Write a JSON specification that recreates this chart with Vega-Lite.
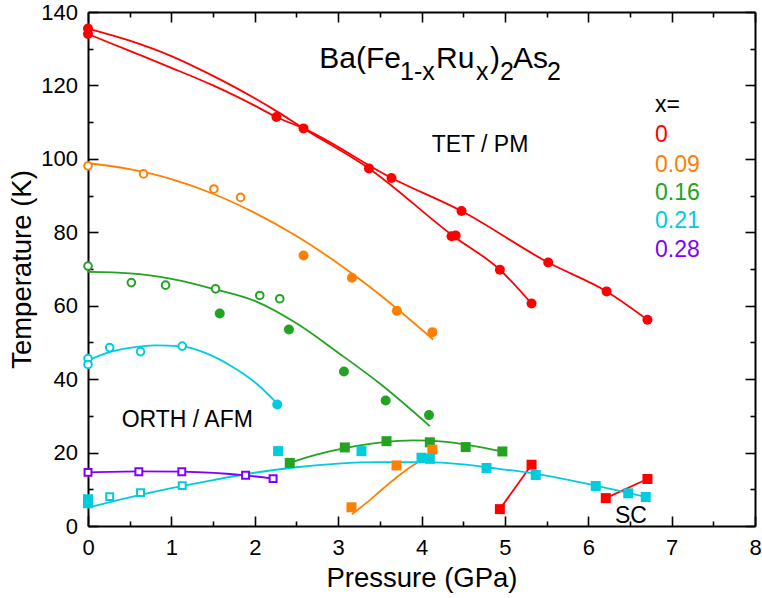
{
  "$schema": "https://vega.github.io/schema/vega-lite/v6.json",
  "width": 667,
  "height": 514,
  "autosize": {"type": "none"},
  "padding": {"left": 88, "top": 12, "right": 7, "bottom": 72},
  "background": "white",
  "config": {
    "font": "Liberation Sans",
    "view": {"stroke": null},
    "axis": {
      "grid": false,
      "domainColor": "black",
      "tickColor": "black",
      "labelColor": "black",
      "titleColor": "black",
      "labelFont": "Liberation Sans",
      "titleFont": "Liberation Sans",
      "titleFontWeight": "normal",
      "labelFontSize": 22,
      "titleFontSize": 27.5,
      "domainWidth": 2,
      "tickWidth": 1.6,
      "labelFlush": false,
      "labelOverlap": false
    }
  },
  "datasets": {
    "curves": [
      {"id": "r1", "comp": "0", "P": 0, "T": 135.5},
      {"id": "r1", "comp": "0", "P": 0.5, "T": 132.2},
      {"id": "r1", "comp": "0", "P": 1, "T": 128.0},
      {"id": "r1", "comp": "0", "P": 1.5, "T": 122.6},
      {"id": "r1", "comp": "0", "P": 2, "T": 116.5},
      {"id": "r1", "comp": "0", "P": 2.26, "T": 113.0},
      {"id": "r1", "comp": "0", "P": 2.585, "T": 108.3},
      {"id": "r1", "comp": "0", "P": 3.37, "T": 97.4},
      {"id": "r1", "comp": "0", "P": 4.38, "T": 79.0},
      {"id": "r1", "comp": "0", "P": 4.94, "T": 69.8},
      {"id": "r1", "comp": "0", "P": 5.32, "T": 60.6},
      {"id": "r2", "comp": "0", "P": 0, "T": 134.0},
      {"id": "r2", "comp": "0", "P": 0.5, "T": 129.4},
      {"id": "r2", "comp": "0", "P": 1, "T": 124.8},
      {"id": "r2", "comp": "0", "P": 1.5, "T": 120.0},
      {"id": "r2", "comp": "0", "P": 2, "T": 114.5},
      {"id": "r2", "comp": "0", "P": 2.26, "T": 111.4},
      {"id": "r2", "comp": "0", "P": 2.585, "T": 108.3},
      {"id": "r2", "comp": "0", "P": 3.64, "T": 94.8},
      {"id": "r2", "comp": "0", "P": 4.48, "T": 85.8},
      {"id": "r2", "comp": "0", "P": 5.52, "T": 71.75},
      {"id": "r2", "comp": "0", "P": 6.22, "T": 63.9},
      {"id": "r2", "comp": "0", "P": 6.71, "T": 56.2},
      {"id": "rs1", "comp": "0", "P": 4.94, "T": 4.6},
      {"id": "rs1", "comp": "0", "P": 5.32, "T": 16.7},
      {"id": "rs2", "comp": "0", "P": 6.21, "T": 7.6},
      {"id": "rs2", "comp": "0", "P": 6.71, "T": 12.8},
      {"id": "o1", "comp": "0.09", "P": 0, "T": 98.8},
      {"id": "o1", "comp": "0.09", "P": 0.5, "T": 97.2},
      {"id": "o1", "comp": "0.09", "P": 1, "T": 94.5},
      {"id": "o1", "comp": "0.09", "P": 1.5, "T": 90.5},
      {"id": "o1", "comp": "0.09", "P": 2, "T": 85.3},
      {"id": "o1", "comp": "0.09", "P": 2.5, "T": 79.0},
      {"id": "o1", "comp": "0.09", "P": 3, "T": 71.5},
      {"id": "o1", "comp": "0.09", "P": 3.5, "T": 63.0},
      {"id": "o1", "comp": "0.09", "P": 4.14, "T": 50.8},
      {"id": "os", "comp": "0.09", "P": 3.165, "T": 3.2},
      {"id": "os", "comp": "0.09", "P": 3.35, "T": 6.5},
      {"id": "os", "comp": "0.09", "P": 3.54, "T": 10.2},
      {"id": "os", "comp": "0.09", "P": 3.7, "T": 13.2},
      {"id": "os", "comp": "0.09", "P": 3.85, "T": 15.8},
      {"id": "os", "comp": "0.09", "P": 4.0, "T": 18.0},
      {"id": "g1", "comp": "0.16", "P": 0, "T": 69.2},
      {"id": "g1", "comp": "0.16", "P": 0.5, "T": 68.8},
      {"id": "g1", "comp": "0.16", "P": 1, "T": 67.3},
      {"id": "g1", "comp": "0.16", "P": 1.5, "T": 64.6},
      {"id": "g1", "comp": "0.16", "P": 2, "T": 61.3},
      {"id": "g1", "comp": "0.16", "P": 2.5, "T": 55.2},
      {"id": "g1", "comp": "0.16", "P": 3, "T": 47.2},
      {"id": "g1", "comp": "0.16", "P": 3.5, "T": 38.8},
      {"id": "g1", "comp": "0.16", "P": 4.1, "T": 27.2},
      {"id": "gs", "comp": "0.16", "P": 2.42, "T": 17.2},
      {"id": "gs", "comp": "0.16", "P": 2.75, "T": 19.5},
      {"id": "gs", "comp": "0.16", "P": 3.08, "T": 21.2},
      {"id": "gs", "comp": "0.16", "P": 3.5, "T": 22.7},
      {"id": "gs", "comp": "0.16", "P": 3.9, "T": 23.3},
      {"id": "gs", "comp": "0.16", "P": 4.3, "T": 22.9},
      {"id": "gs", "comp": "0.16", "P": 4.6, "T": 21.9},
      {"id": "gs", "comp": "0.16", "P": 4.97, "T": 20.3},
      {"id": "c1", "comp": "0.21", "P": 0, "T": 45.1},
      {"id": "c1", "comp": "0.21", "P": 0.25, "T": 47.3},
      {"id": "c1", "comp": "0.21", "P": 0.5, "T": 48.5},
      {"id": "c1", "comp": "0.21", "P": 0.8, "T": 49.2},
      {"id": "c1", "comp": "0.21", "P": 1.13, "T": 48.9},
      {"id": "c1", "comp": "0.21", "P": 1.42, "T": 47.0},
      {"id": "c1", "comp": "0.21", "P": 1.7, "T": 43.8},
      {"id": "c1", "comp": "0.21", "P": 2.02, "T": 38.8},
      {"id": "c1", "comp": "0.21", "P": 2.27, "T": 33.3},
      {"id": "cs", "comp": "0.21", "P": 0, "T": 5.0},
      {"id": "cs", "comp": "0.21", "P": 0.5, "T": 7.8},
      {"id": "cs", "comp": "0.21", "P": 1, "T": 10.3},
      {"id": "cs", "comp": "0.21", "P": 1.5, "T": 12.5},
      {"id": "cs", "comp": "0.21", "P": 2, "T": 14.5},
      {"id": "cs", "comp": "0.21", "P": 2.5, "T": 16.0},
      {"id": "cs", "comp": "0.21", "P": 3, "T": 17.0},
      {"id": "cs", "comp": "0.21", "P": 3.5, "T": 17.4},
      {"id": "cs", "comp": "0.21", "P": 4, "T": 17.4},
      {"id": "cs", "comp": "0.21", "P": 4.5, "T": 16.8},
      {"id": "cs", "comp": "0.21", "P": 4.78, "T": 16.0},
      {"id": "cs", "comp": "0.21", "P": 5.37, "T": 14.2},
      {"id": "cs", "comp": "0.21", "P": 6.09, "T": 11.0},
      {"id": "cs", "comp": "0.21", "P": 6.48, "T": 9.0},
      {"id": "cs", "comp": "0.21", "P": 6.69, "T": 7.9},
      {"id": "p1", "comp": "0.28", "P": 0, "T": 14.6},
      {"id": "p1", "comp": "0.28", "P": 0.61, "T": 14.9},
      {"id": "p1", "comp": "0.28", "P": 1.125, "T": 14.8},
      {"id": "p1", "comp": "0.28", "P": 1.89, "T": 13.8},
      {"id": "p1", "comp": "0.28", "P": 2.22, "T": 12.9}
    ],
    "points": [
      {"comp": "0", "kind": "fc", "P": 0, "T": 135.5},
      {"comp": "0", "kind": "fc", "P": 0, "T": 134.0},
      {"comp": "0", "kind": "fc", "P": 2.26, "T": 111.4},
      {"comp": "0", "kind": "fc", "P": 2.585, "T": 108.3},
      {"comp": "0", "kind": "fc", "P": 3.37, "T": 97.4},
      {"comp": "0", "kind": "fc", "P": 3.64, "T": 94.8},
      {"comp": "0", "kind": "fc", "P": 4.36, "T": 78.9},
      {"comp": "0", "kind": "fc", "P": 4.41, "T": 79.1},
      {"comp": "0", "kind": "fc", "P": 4.48, "T": 85.8},
      {"comp": "0", "kind": "fc", "P": 4.94, "T": 69.8},
      {"comp": "0", "kind": "fc", "P": 5.32, "T": 60.6},
      {"comp": "0", "kind": "fc", "P": 5.52, "T": 71.75},
      {"comp": "0", "kind": "fc", "P": 6.22, "T": 63.9},
      {"comp": "0", "kind": "fc", "P": 6.71, "T": 56.2},
      {"comp": "0.09", "kind": "oc", "P": 0, "T": 98.1},
      {"comp": "0.09", "kind": "oc", "P": 0.666, "T": 95.9},
      {"comp": "0.09", "kind": "oc", "P": 1.51, "T": 91.8},
      {"comp": "0.09", "kind": "oc", "P": 1.83, "T": 89.5},
      {"comp": "0.09", "kind": "fc", "P": 2.585, "T": 73.7},
      {"comp": "0.09", "kind": "fc", "P": 3.166, "T": 67.6},
      {"comp": "0.09", "kind": "fc", "P": 3.705, "T": 58.6},
      {"comp": "0.09", "kind": "fc", "P": 4.13, "T": 52.8},
      {"comp": "0.16", "kind": "oc", "P": 0, "T": 70.8},
      {"comp": "0.16", "kind": "oc", "P": 0.52, "T": 66.3},
      {"comp": "0.16", "kind": "oc", "P": 0.93, "T": 65.6},
      {"comp": "0.16", "kind": "oc", "P": 1.53, "T": 64.6},
      {"comp": "0.16", "kind": "oc", "P": 2.06, "T": 62.8},
      {"comp": "0.16", "kind": "oc", "P": 2.3, "T": 61.9},
      {"comp": "0.16", "kind": "fc", "P": 1.58, "T": 57.9},
      {"comp": "0.16", "kind": "fc", "P": 2.41, "T": 53.5},
      {"comp": "0.16", "kind": "fc", "P": 3.07, "T": 42.1},
      {"comp": "0.16", "kind": "fc", "P": 3.57, "T": 34.2},
      {"comp": "0.16", "kind": "fc", "P": 4.09, "T": 30.2},
      {"comp": "0.21", "kind": "oc", "P": 0, "T": 45.6},
      {"comp": "0.21", "kind": "oc", "P": 0, "T": 44.0},
      {"comp": "0.21", "kind": "oc", "P": 0.26, "T": 48.6},
      {"comp": "0.21", "kind": "oc", "P": 0.63, "T": 47.5},
      {"comp": "0.21", "kind": "oc", "P": 1.13, "T": 49.0},
      {"comp": "0.21", "kind": "fc", "P": 2.27, "T": 33.1},
      {"comp": "0.21", "kind": "os", "P": 0.26, "T": 8.0},
      {"comp": "0.21", "kind": "os", "P": 0.63, "T": 9.1},
      {"comp": "0.21", "kind": "os", "P": 1.13, "T": 11.0},
      {"comp": "0.28", "kind": "os", "P": 0, "T": 14.6},
      {"comp": "0.28", "kind": "os", "P": 0.61, "T": 14.8},
      {"comp": "0.28", "kind": "os", "P": 1.125, "T": 14.8},
      {"comp": "0.28", "kind": "os", "P": 1.89, "T": 13.8},
      {"comp": "0.28", "kind": "os", "P": 2.22, "T": 12.9},
      {"comp": "0.16", "kind": "fs", "P": 2.42, "T": 17.2},
      {"comp": "0.16", "kind": "fs", "P": 3.08, "T": 21.4},
      {"comp": "0.16", "kind": "fs", "P": 3.58, "T": 23.1},
      {"comp": "0.16", "kind": "fs", "P": 4.1, "T": 22.8},
      {"comp": "0.16", "kind": "fs", "P": 4.53, "T": 21.5},
      {"comp": "0.16", "kind": "fs", "P": 4.97, "T": 20.3},
      {"comp": "0.09", "kind": "fs", "P": 3.16, "T": 5.1},
      {"comp": "0.09", "kind": "fs", "P": 3.7, "T": 16.5},
      {"comp": "0.09", "kind": "fs", "P": 4.13, "T": 20.8},
      {"comp": "0.21", "kind": "fs", "P": 0, "T": 7.3},
      {"comp": "0.21", "kind": "fs", "P": 0, "T": 6.2},
      {"comp": "0.21", "kind": "fs", "P": 2.28, "T": 20.4},
      {"comp": "0.21", "kind": "fs", "P": 3.28, "T": 20.4},
      {"comp": "0.21", "kind": "fs", "P": 4.0, "T": 18.6},
      {"comp": "0.21", "kind": "fs", "P": 4.1, "T": 18.3},
      {"comp": "0.21", "kind": "fs", "P": 4.78, "T": 15.8},
      {"comp": "0.21", "kind": "fs", "P": 5.37, "T": 13.9},
      {"comp": "0.21", "kind": "fs", "P": 6.09, "T": 10.9},
      {"comp": "0.21", "kind": "fs", "P": 6.48, "T": 8.9},
      {"comp": "0.21", "kind": "fs", "P": 6.69, "T": 7.9},
      {"comp": "0", "kind": "fs", "P": 4.94, "T": 4.6},
      {"comp": "0", "kind": "fs", "P": 5.32, "T": 16.7},
      {"comp": "0", "kind": "fs", "P": 6.21, "T": 7.6},
      {"comp": "0", "kind": "fs", "P": 6.71, "T": 12.8}
    ],
    "labels": [
      {"kind": "plain", "text": "TET / PM", "P": 4.122, "T": 101.95},
      {"kind": "plain", "text": "ORTH / AFM", "P": 0.404, "T": 27.05},
      {"kind": "plain", "text": "SC", "P": 6.321, "T": 0.9},
      {"kind": "plain", "text": "x=", "P": 6.801, "T": 112.76},
      {"kind": "legend", "comp": "0", "text": "0", "P": 6.801, "T": 104.67},
      {"kind": "legend", "comp": "0.09", "text": "0.09", "P": 6.801, "T": 96.5},
      {"kind": "legend", "comp": "0.16", "text": "0.16", "P": 6.801, "T": 88.8},
      {"kind": "legend", "comp": "0.21", "text": "0.21", "P": 6.801, "T": 81.1},
      {"kind": "legend", "comp": "0.28", "text": "0.28", "P": 6.801, "T": 73.2},
      {"kind": "main", "text": "Ba(Fe", "P": 2.774, "T": 124.67},
      {"kind": "sub", "text": "1-x", "P": 3.742, "T": 121.48},
      {"kind": "main", "text": "Ru", "P": 4.174, "T": 124.67},
      {"kind": "sub", "text": "x", "P": 4.654, "T": 121.48},
      {"kind": "main", "text": ")", "P": 4.822, "T": 124.67},
      {"kind": "sub", "text": "2", "P": 4.942, "T": 121.48},
      {"kind": "main", "text": "As", "P": 5.097, "T": 124.67},
      {"kind": "sub", "text": "2", "P": 5.505, "T": 121.48}
    ]
  },
  "layer": [
    {
      "data": {"name": "curves"},
      "mark": {"type": "line", "interpolate": "monotone", "strokeWidth": 1.8},
      "encoding": {
        "x": {"field": "P", "type": "quantitative", "scale": {"domain": [0, 8], "nice": false, "zero": false},
              "axis": {"orient": "bottom", "values": [0, 1, 2, 3, 4, 5, 6, 7, 8], "tickSize": -10, "labelPadding": 21, "title": "Pressure (GPa)", "titlePadding": 6}},
        "y": {"field": "T", "type": "quantitative", "scale": {"domain": [0, 140], "nice": false, "zero": false},
              "axis": {"orient": "left", "values": [0, 20, 40, 60, 80, 100, 120, 140], "tickSize": -10, "labelPadding": 20.5, "title": "Temperature (K)", "titlePadding": 4}},
        "color": {"field": "comp", "type": "nominal", "scale": {"domain": ["0", "0.09", "0.16", "0.21", "0.28"], "range": ["#ff0000", "#ff8000", "#22a322", "#00ccdd", "#8000ff"]}, "legend": null},
        "detail": {"field": "id"}
      }
    },
    {
      "data": {"name": "points"},
      "transform": [{"filter": "datum.kind === 'oc'"}],
      "mark": {"type": "point", "shape": "circle", "filled": false, "fill": "white", "strokeWidth": 2, "size": 58, "opacity": 1},
      "encoding": {
        "x": {"field": "P", "type": "quantitative", "scale": {"domain": [0, 8], "nice": false, "zero": false},
              "axis": {"orient": "top", "values": [0, 1, 2, 3, 4, 5, 6, 7, 8], "tickSize": -10, "labels": false, "title": null}},
        "y": {"field": "T", "type": "quantitative", "scale": {"domain": [0, 140], "nice": false, "zero": false},
              "axis": {"orient": "right", "values": [0, 20, 40, 60, 80, 100, 120, 140], "tickSize": -10, "labels": false, "title": null}},
        "color": {"field": "comp", "type": "nominal", "scale": {"domain": ["0", "0.09", "0.16", "0.21", "0.28"], "range": ["#ff0000", "#ff8000", "#22a322", "#00ccdd", "#8000ff"]}, "legend": null}
      }
    },
    {
      "data": {"name": "points"},
      "transform": [{"filter": "datum.kind === 'fc'"}],
      "mark": {"type": "point", "shape": "circle", "filled": true, "size": 100, "opacity": 1},
      "encoding": {
        "x": {"field": "P", "type": "quantitative", "scale": {"domain": [0, 8], "nice": false, "zero": false},
              "axis": {"orient": "bottom", "values": [0.5, 1.5, 2.5, 3.5, 4.5, 5.5, 6.5, 7.5], "tickSize": -5, "labels": false, "domain": false, "title": null}},
        "y": {"field": "T", "type": "quantitative", "scale": {"domain": [0, 140], "nice": false, "zero": false},
              "axis": {"orient": "left", "values": [10, 30, 50, 70, 90, 110, 130], "tickSize": -5, "labels": false, "domain": false, "title": null}},
        "color": {"field": "comp", "type": "nominal", "scale": {"domain": ["0", "0.09", "0.16", "0.21", "0.28"], "range": ["#ff0000", "#ff8000", "#22a322", "#00ccdd", "#8000ff"]}, "legend": null}
      }
    },
    {
      "data": {"name": "points"},
      "transform": [{"filter": "datum.kind === 'os'"}],
      "mark": {"type": "point", "shape": "square", "filled": false, "fill": "white", "strokeWidth": 2, "size": 48, "opacity": 1},
      "encoding": {
        "x": {"field": "P", "type": "quantitative", "scale": {"domain": [0, 8], "nice": false, "zero": false},
              "axis": {"orient": "top", "values": [0.5, 1.5, 2.5, 3.5, 4.5, 5.5, 6.5, 7.5], "tickSize": -5, "labels": false, "domain": false, "title": null}},
        "y": {"field": "T", "type": "quantitative", "scale": {"domain": [0, 140], "nice": false, "zero": false},
              "axis": {"orient": "right", "values": [10, 30, 50, 70, 90, 110, 130], "tickSize": -5, "labels": false, "domain": false, "title": null}},
        "color": {"field": "comp", "type": "nominal", "scale": {"domain": ["0", "0.09", "0.16", "0.21", "0.28"], "range": ["#ff0000", "#ff8000", "#22a322", "#00ccdd", "#8000ff"]}, "legend": null}
      }
    },
    {
      "data": {"name": "points"},
      "transform": [{"filter": "datum.kind === 'fs'"}],
      "mark": {"type": "point", "shape": "square", "filled": true, "size": 100, "opacity": 1},
      "encoding": {
        "x": {"field": "P", "type": "quantitative", "scale": {"domain": [0, 8], "nice": false, "zero": false}, "axis": null},
        "y": {"field": "T", "type": "quantitative", "scale": {"domain": [0, 140], "nice": false, "zero": false}, "axis": null},
        "color": {"field": "comp", "type": "nominal", "scale": {"domain": ["0", "0.09", "0.16", "0.21", "0.28"], "range": ["#ff0000", "#ff8000", "#22a322", "#00ccdd", "#8000ff"]}, "legend": null}
      }
    },
    {
      "data": {"name": "labels"},
      "transform": [{"filter": "datum.kind === 'plain'"}],
      "mark": {"type": "text", "align": "left", "baseline": "alphabetic", "fontSize": 23, "color": "black"},
      "encoding": {
        "x": {"field": "P", "type": "quantitative", "scale": {"domain": [0, 8], "nice": false, "zero": false}, "axis": null},
        "y": {"field": "T", "type": "quantitative", "scale": {"domain": [0, 140], "nice": false, "zero": false}, "axis": null},
        "text": {"field": "text"}
      }
    },
    {
      "data": {"name": "labels"},
      "transform": [{"filter": "datum.kind === 'legend'"}],
      "mark": {"type": "text", "align": "left", "baseline": "alphabetic", "fontSize": 23},
      "encoding": {
        "x": {"field": "P", "type": "quantitative", "scale": {"domain": [0, 8], "nice": false, "zero": false}, "axis": null},
        "y": {"field": "T", "type": "quantitative", "scale": {"domain": [0, 140], "nice": false, "zero": false}, "axis": null},
        "text": {"field": "text"},
        "color": {"field": "comp", "type": "nominal", "scale": {"domain": ["0", "0.09", "0.16", "0.21", "0.28"], "range": ["#ff0000", "#ff8000", "#22a322", "#00ccdd", "#8000ff"]}, "legend": null}
      }
    },
    {
      "data": {"name": "labels"},
      "transform": [{"filter": "datum.kind === 'main'"}],
      "mark": {"type": "text", "align": "left", "baseline": "alphabetic", "fontSize": 30, "color": "black"},
      "encoding": {
        "x": {"field": "P", "type": "quantitative", "scale": {"domain": [0, 8], "nice": false, "zero": false}, "axis": null},
        "y": {"field": "T", "type": "quantitative", "scale": {"domain": [0, 140], "nice": false, "zero": false}, "axis": null},
        "text": {"field": "text"}
      }
    },
    {
      "data": {"name": "labels"},
      "transform": [{"filter": "datum.kind === 'sub'"}],
      "mark": {"type": "text", "align": "left", "baseline": "alphabetic", "fontSize": 25, "color": "black"},
      "encoding": {
        "x": {"field": "P", "type": "quantitative", "scale": {"domain": [0, 8], "nice": false, "zero": false}, "axis": null},
        "y": {"field": "T", "type": "quantitative", "scale": {"domain": [0, 140], "nice": false, "zero": false}, "axis": null},
        "text": {"field": "text"}
      }
    }
  ],
  "resolve": {"axis": {"x": "independent", "y": "independent"}}
}
